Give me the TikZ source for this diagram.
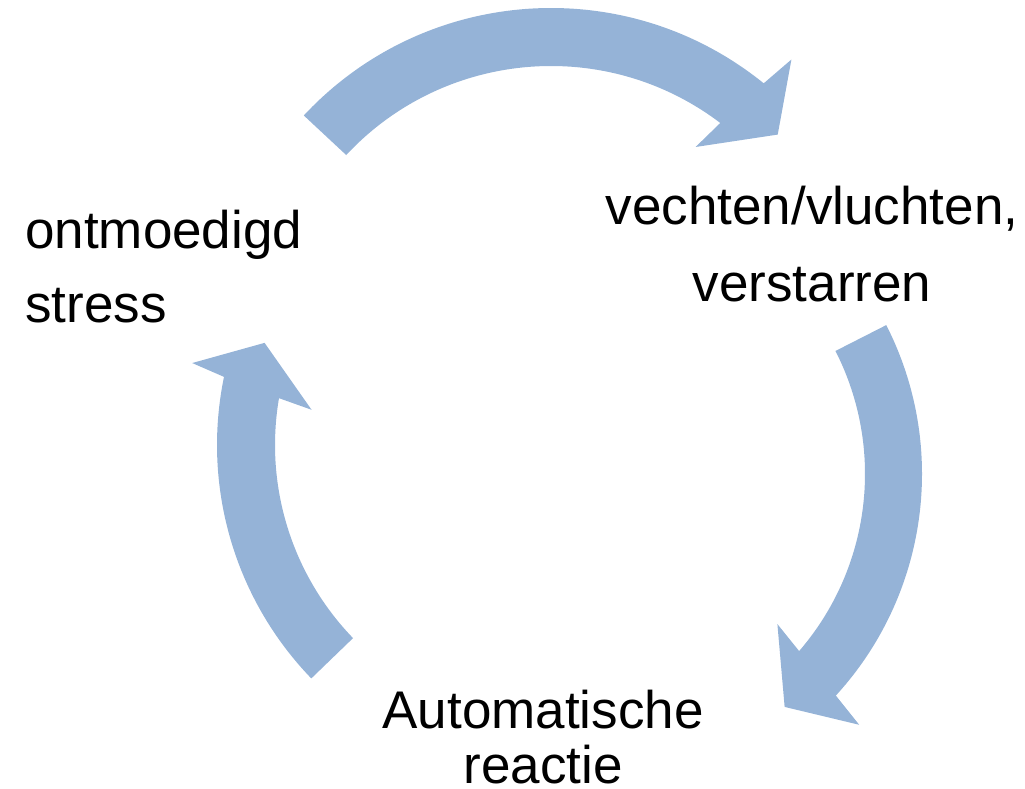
\documentclass[tikz,border=0pt]{standalone}
\usepackage{fontspec}
\setmainfont{Liberation Sans}
\definecolor{arrowblue}{HTML}{95B3D7}

\begin{document}
\begin{tikzpicture}[x=1pt, y=1pt,
        cyclearrow/.style={fill=arrowblue},
        cycletext/.style={inner sep=0pt, font=\fontsize{53}{#1}\selectfont}]
    \useasboundingbox (0,0) rectangle (1025,-789);
    \begin{scope}[shift={(551,-346)}]
        \fill[cyclearrow] (137:338) arc[start angle=137, end angle=51, radius=338] -- (50:374) -- (43:310) -- (54:246) -- (52.8:280) arc[start angle=52.8, end angle=137, radius=280] -- cycle;
    \end{scope}
    \begin{scope}[shift={(594,-474)}]
        \fill[cyclearrow] (27:328) arc[start angle=27, end angle=-42.5, radius=328] -- (-43.4:365) -- (-50.7:301) -- (-39.3:237) -- (-40.8:271) arc[start angle=-40.8, end angle=27, radius=271] -- cycle;
    \end{scope}
    \begin{scope}[shift={(553,-445)}]
        \fill[cyclearrow] (224:336) arc[start angle=224, end angle=168.3, radius=336] -- (167.2:370) -- (160.5:306) -- (171.7:244) -- (170.3:278) arc[start angle=170.3, end angle=224, radius=278] -- cycle;
    \end{scope}
    \node[cycletext=74, align=left, anchor=base west] (stress) at (25,-322) {ontmoedigd\\stress};
    \node[cycletext=77, align=center, anchor=base] (vechten) at (812,-301) {vechten/vluchten,\\verstarren};
    \node[cycletext=55, align=center, anchor=base] (reactie) at (543,-783) {Automatische\\reactie};
\end{tikzpicture}
\end{document}
